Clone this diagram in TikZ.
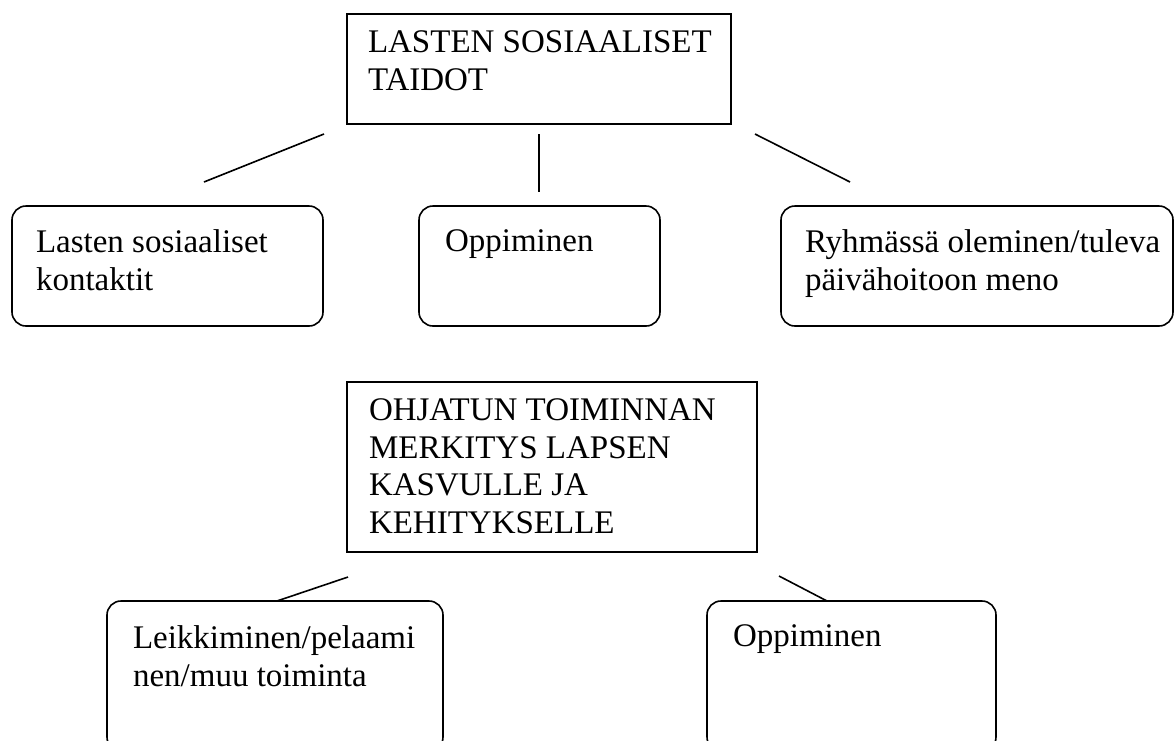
\documentclass[tikz,border=0pt]{standalone}
\usepackage{fontspec}
\setmainfont{Liberation Serif}

\begin{document}
\begin{tikzpicture}[x=1pt,y=-1pt,line width=1.6pt]
        \tikzstyle{every node}=[inner sep=0pt, outer sep=0pt]
        \tikzstyle{kulmikas}=[draw, rectangle, anchor=north west]
        \tikzstyle{pyorea}=[draw, rectangle, rounded corners=14pt, anchor=north west]
        \tikzstyle{teksti}=[anchor=north west, align=left, font=\fontsize{33}{37.5}\selectfont]
        \clip (0,0) rectangle (1176,740);
        % ylaosa
        \node[kulmikas, minimum width=384pt, minimum height=110pt] (taidot) at (347,14) {};
        \node[teksti] (taidotT) at (368,31) {LASTEN SOSIAALISET\\TAIDOT};
        \node[pyorea, minimum width=311pt, minimum height=120pt] (kontaktit) at (12,206) {};
        \node[teksti] (kontaktitT) at (36,230) {Lasten sosiaaliset\\kontaktit};
        \node[pyorea, minimum width=241pt, minimum height=120pt] (oppiminen) at (419,206) {};
        \node[teksti] (oppiminenT) at (445,230) {Oppiminen};
        \node[pyorea, minimum width=392pt, minimum height=120pt] (ryhma) at (781,206) {};
        \node[teksti] (ryhmaT) at (805,230) {Ryhmässä oleminen/tuleva\\päivähoitoon meno};
        \coordinate (v1) at (324,134); \coordinate (v2) at (204,182);
        \coordinate (k1) at (539,134); \coordinate (k2) at (539,192);
        \coordinate (o1) at (755,134); \coordinate (o2) at (850,182);
        \draw (v1) -- (v2);
        \draw (k1) -- (k2);
        \draw (o1) -- (o2);
        % alaosa
        \node[kulmikas, minimum width=410pt, minimum height=170pt] (ohjattu) at (347,382) {};
        \node[teksti] (ohjattuT) at (369,399) {OHJATUN TOIMINNAN\\MERKITYS LAPSEN\\KASVULLE JA\\KEHITYKSELLE};
        \node[pyorea, minimum width=336pt, minimum height=150pt] (leikki) at (107,601) {};
        \node[teksti] (leikkiT) at (133,626) {Leikkiminen/pelaami\\nen/muu toiminta};
        \node[pyorea, minimum width=289pt, minimum height=150pt] (oppi2) at (707,601) {};
        \node[teksti] (oppi2T) at (733,625) {Oppiminen};
        \coordinate (l1) at (348,577); \coordinate (l2) at (277,601);
        \coordinate (p1) at (779,576); \coordinate (p2) at (827,601);
        \draw (l1) -- (l2);
        \draw (p1) -- (p2);
\end{tikzpicture}
\end{document}
